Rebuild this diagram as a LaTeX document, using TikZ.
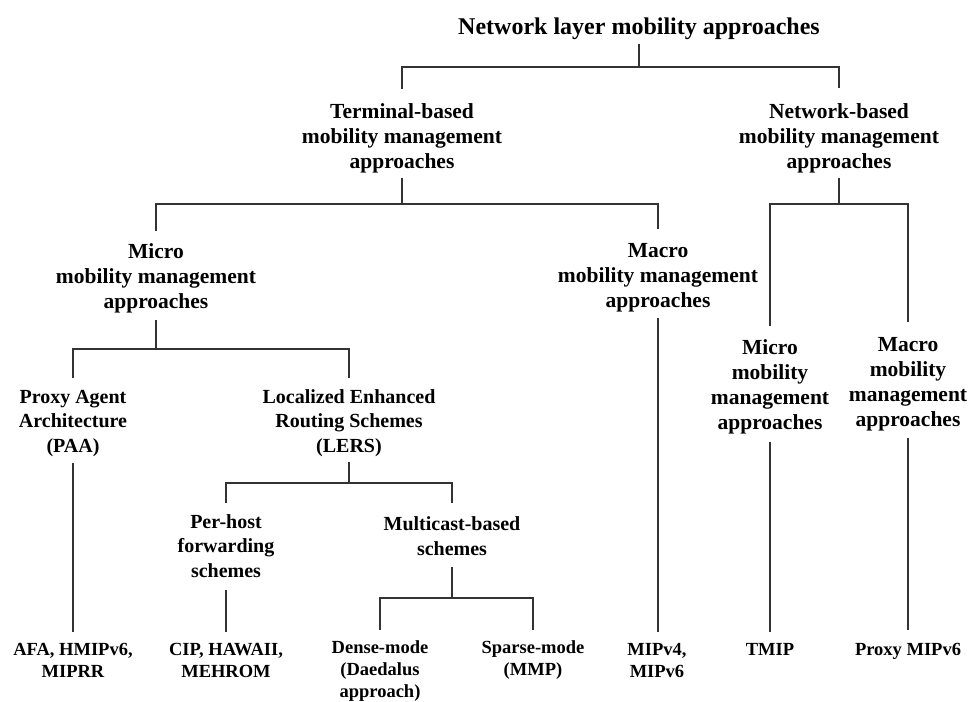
\documentclass[tikz,border=0pt]{standalone}
\usepackage{fontspec}
\setmainfont{Liberation Serif}
\begin{document}
\begin{tikzpicture}[x=1pt,y=-1pt,
  lbl/.style={anchor=base,inner sep=0pt,align=center,font=\bfseries\fontsize{21.5}{25}\selectfont},
  lblmid/.style={lbl,font=\bfseries\fontsize{20}{24.5}\selectfont},
  lbllow/.style={lbl,font=\bfseries\fontsize{18.5}{22}\selectfont},
  lbltop/.style={lbl,font=\bfseries\fontsize{24}{28}\selectfont},
  link/.style={draw=black!80,line width=1.4pt}]
\useasboundingbox (0,0) rectangle (970,702);

% category labels (positioned at the baseline of their last line)
\node[lbltop] (root) at (639,34) {Network layer mobility approaches};
\node[lbl] (term) at (402,168) {Terminal-based\\mobility management\\approaches};
\node[lbl] (net) at (839,168) {Network-based\\mobility management\\approaches};
\node[lbl] (micro) at (156,308) {Micro\\mobility management\\approaches};
\node[lbl] (macro) at (658,307) {Macro\\mobility management\\approaches};
\node[lbl] (nmicro) at (770,429) {Micro\\mobility\\management\\approaches};
\node[lbl] (nmacro) at (908,426) {Macro\\mobility\\management\\approaches};
\node[lblmid] (paa) at (73,452) {Proxy Agent\\Architecture\\(PAA)};
\node[lblmid] (lers) at (349,452) {Localized Enhanced\\Routing Schemes\\(LERS)};
\node[lblmid] (perhost) at (226,577) {Per-host\\forwarding\\schemes};
\node[lblmid] (mcast) at (452,555) {Multicast-based\\schemes};

% protocol leaves
\node[lbllow] (afa) at (73,677) {AFA, HMIPv6,\\MIPRR};
\node[lbllow] (cip) at (226,677) {CIP, HAWAII,\\MEHROM};
\node[lbllow] (dense) at (380,697) {Dense-mode\\(Daedalus\\approach)};
\node[lbllow] (sparse) at (533,675) {Sparse-mode\\(MMP)};
\node[lbllow] (mip) at (657,677) {MIPv4,\\MIPv6};
\node[lbllow] (tmip) at (770,655) {TMIP};
\node[lbllow] (pmip) at (908,655) {Proxy MIPv6};

% tree connectors
\draw[link] (root |- 0,44) -- (root |- 0,67);
\draw[link] (term |- 0,89) -- (term |- 0,67) -- (net |- 0,67) -- (net |- 0,88);

\draw[link] (term |- 0,178) -- (term |- 0,204);
\draw[link] (micro |- 0,231) -- (micro |- 0,204) -- (macro |- 0,204) -- (macro |- 0,229);

\draw[link] (net |- 0,178) -- (net |- 0,204);
\draw[link] (nmicro |- 0,326) -- (nmicro |- 0,204) -- (nmacro |- 0,204) -- (nmacro |- 0,322);

\draw[link] (micro |- 0,320) -- (micro |- 0,349);
\draw[link] (paa |- 0,378) -- (paa |- 0,349) -- (lers |- 0,349) -- (lers |- 0,378);

\draw[link] (paa |- 0,463) -- (afa |- 0,632);

\draw[link] (lers |- 0,462) -- (lers |- 0,483);
\draw[link] (perhost |- 0,503) -- (perhost |- 0,483) -- (mcast |- 0,483) -- (mcast |- 0,503);

\draw[link] (perhost |- 0,590) -- (cip |- 0,632);

\draw[link] (mcast |- 0,567) -- (mcast |- 0,598);
\draw[link] (dense |- 0,630) -- (dense |- 0,598) -- (sparse |- 0,598) -- (sparse |- 0,630);

\draw[link] (macro |- 0,318) -- (macro |- 0,632);
\draw[link] (nmicro |- 0,442) -- (tmip |- 0,632);
\draw[link] (nmacro |- 0,438) -- (pmip |- 0,630);
\end{tikzpicture}
\end{document}
